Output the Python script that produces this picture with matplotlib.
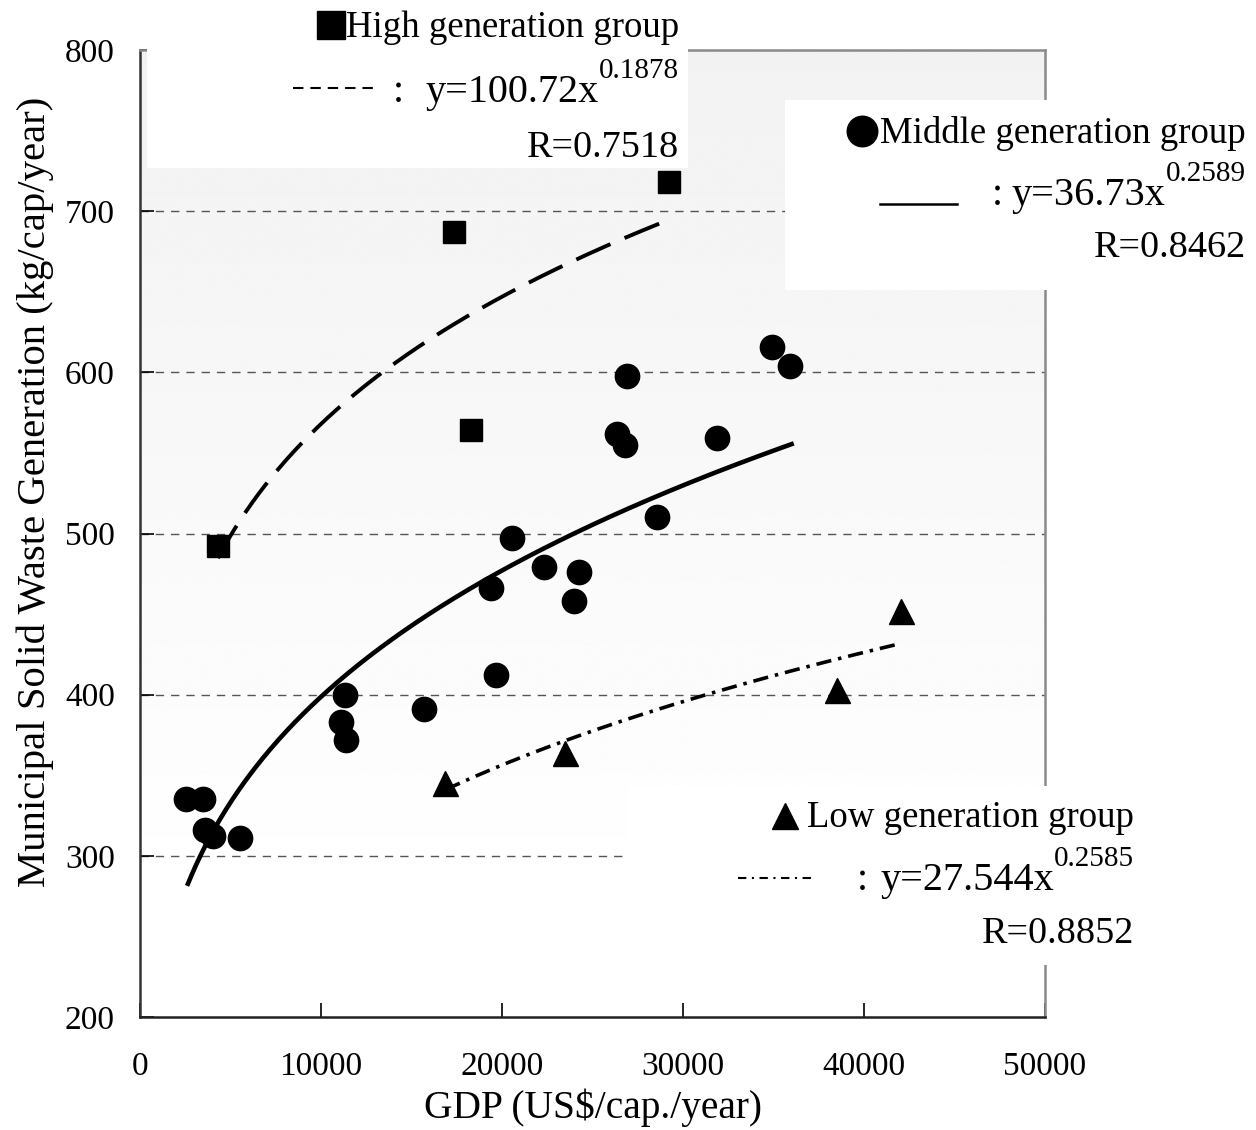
import numpy as np
import matplotlib
matplotlib.use("Agg")
import matplotlib.pyplot as plt
from matplotlib.lines import Line2D
from matplotlib.patches import Rectangle

plt.rcParams['font.family'] = ['Liberation Serif', 'DejaVu Sans']
plt.rcParams['lines.scale_dashes'] = False

# GDP per capita (US$/cap./year) and municipal solid waste generation (kg/cap/year)
high_gdp = [4300, 17350, 18300, 29200]
high_msw = [492, 687, 564, 718]

mid_gdp = [2550, 3480, 3600, 4050, 5500, 11330, 11100, 11380, 15700, 19650,
           19400, 20550, 22300, 24000, 24250, 26350, 26800, 26900, 28550,
           31900, 34900, 35900]
mid_msw = [335, 335, 316, 312, 311, 400, 383, 372, 391, 412,
           466, 497, 479, 458, 476, 562, 555, 598, 510,
           559, 616, 604]

low_gdp = [16850, 23500, 38500, 42050]
low_msw = [345, 364, 403, 452]

# Power-law fits y = a * x^b : (a, b, x start, x end, R)
high_fit = (100.72, 0.1878, 4300, 29000, "0.7518")
mid_fit = (36.73, 0.2589, 2650, 36000, "0.8462")
low_fit = (27.544, 0.2585, 16900, 42000, "0.8852")

x_ticks = [0, 10000, 20000, 30000, 40000, 50000]
y_ticks = [200, 300, 400, 500, 600, 700, 800]
grid_levels = [300, 400, 500, 600, 700]

W, H = 1256, 1130
fig = plt.figure(figsize=(W / 100, H / 100), dpi=100)
ax = fig.add_axes([140 / W, 1 - 1017 / H, 905 / W, 967 / H])


def fx(px):
    return px / W


def fy(py):
    return 1 - py / H


# soft grey-to-white background inside the plot
yy = np.linspace(200, 800, 400)
shade = np.where(yy < 272, 1.0, 1.0 - 0.052 * (yy - 272) / (800 - 272))
ax.imshow(shade[:, None], extent=[0, 50000, 200, 800], origin='lower',
          aspect='auto', cmap='gray', vmin=0, vmax=1, zorder=0,
          interpolation='bilinear')

for g in grid_levels:
    ax.axhline(g, color='#555555', lw=1.0, dashes=(6, 5), zorder=1)

# fitted curves
for (a, b, x0, x1, _), style in zip(
        (high_fit, mid_fit, low_fit),
        (dict(dashes=(27, 11), lw=2.8),
         dict(ls='-', lw=3.3),
         dict(dashes=(11, 5, 2.5, 5), lw=2.6))):
    xs = np.linspace(x0, x1, 300)
    ax.plot(xs, a * xs ** b, color='black', zorder=3, **style)

ax.plot(high_gdp, high_msw, ls='none', marker='s', ms=16, color='black', zorder=4)
ax.plot(mid_gdp, mid_msw, ls='none', marker='o', ms=17.5, color='black', zorder=4)
ax.plot(low_gdp, low_msw, ls='none', marker='^', ms=18, color='black', zorder=4)

ax.set_xlim(0, 50000)
ax.set_ylim(200, 800)
ax.set_xticks(x_ticks)
ax.set_yticks(y_ticks)
ax.tick_params(direction='in', length=10, width=1.2, labelsize=24)
ax.tick_params(axis='x', pad=25)
ax.tick_params(axis='y', pad=18)
ax.spines['left'].set_color('#333333')
ax.spines['bottom'].set_color('#222222')
ax.spines['left'].set_linewidth(1.8)
ax.spines['bottom'].set_linewidth(1.8)
for s in ('top', 'right'):
    ax.spines[s].set_color('#8a8a8a')
    ax.spines[s].set_linewidth(1.8)

ax.set_xlabel('GDP (US$/cap./year)', fontsize=28.4)
ax.set_ylabel('Municipal Solid Waste Generation (kg/cap/year)', fontsize=29.3)
ax.xaxis.set_label_coords(0.5, -0.074)
ax.yaxis.set_label_coords(-0.095, 0.543)

# white legend panels
for (l, t, r, b) in [(147, 0, 688, 168), (785, 100, 1256, 290), (627, 786, 1145, 965)]:
    fig.patches.append(Rectangle((fx(l), fy(b)), fx(r) - fx(l), fy(t) - fy(b),
                                 transform=fig.transFigure, facecolor='white',
                                 edgecolor='none', zorder=2))

renderer = fig.canvas.get_renderer()


def panel(right, base_title, base_eq, base_r, colon_x, title, marker, mpos, msize,
          a, b, r):
    fig.text(fx(right), fy(base_title), title, fontsize=26.5, ha='right',
             va='baseline', zorder=5)
    fig.lines.append(Line2D([fx(mpos[0])], [fy(mpos[1])], transform=fig.transFigure,
                            ls='none', marker=marker, ms=msize, color='black', zorder=5))
    sup = fig.text(fx(right), fy(base_eq - 24), f'{b}', fontsize=21, ha='right',
                   va='baseline', zorder=5)
    sup_left = sup.get_window_extent(renderer).x0
    fig.text(sup_left / W, fy(base_eq), f'y={a}x', fontsize=29, ha='right',
             va='baseline', zorder=5)
    fig.text(fx(colon_x), fy(base_eq), ':', fontsize=29, ha='center',
             va='baseline', zorder=5)
    fig.text(fx(right), fy(base_r), 'R=' + r, fontsize=27.5, ha='right',
             va='baseline', zorder=5)


panel(679, 37, 102, 157, 398, 'High generation group', 's', (331, 25), 19.5,
      high_fit[0], high_fit[1], high_fit[4])
panel(1246, 143, 205, 257, 997, 'Middle generation group', 'o', (862, 131), 22,
      mid_fit[0], mid_fit[1], mid_fit[4])
panel(1134, 827, 890, 943, 862, 'Low generation group', '^', (785, 816), 18.5,
      low_fit[0], low_fit[1], low_fit[4])

# line-style samples beside each equation
fig.lines.append(Line2D([fx(293), fx(376)], [fy(88), fy(88)], transform=fig.transFigure,
                        color='black', lw=1.5, dashes=(7.5, 5), zorder=5))
fig.lines.append(Line2D([fx(880), fx(957)], [fy(204), fy(204)], transform=fig.transFigure,
                        color='black', lw=1.8, zorder=5))
fig.lines.append(Line2D([fx(738), fx(813)], [fy(878), fy(878)], transform=fig.transFigure,
                        color='black', lw=1.5, dashes=(6, 4, 1.5, 4), zorder=5))

fig.savefig('out.png', dpi=100)
